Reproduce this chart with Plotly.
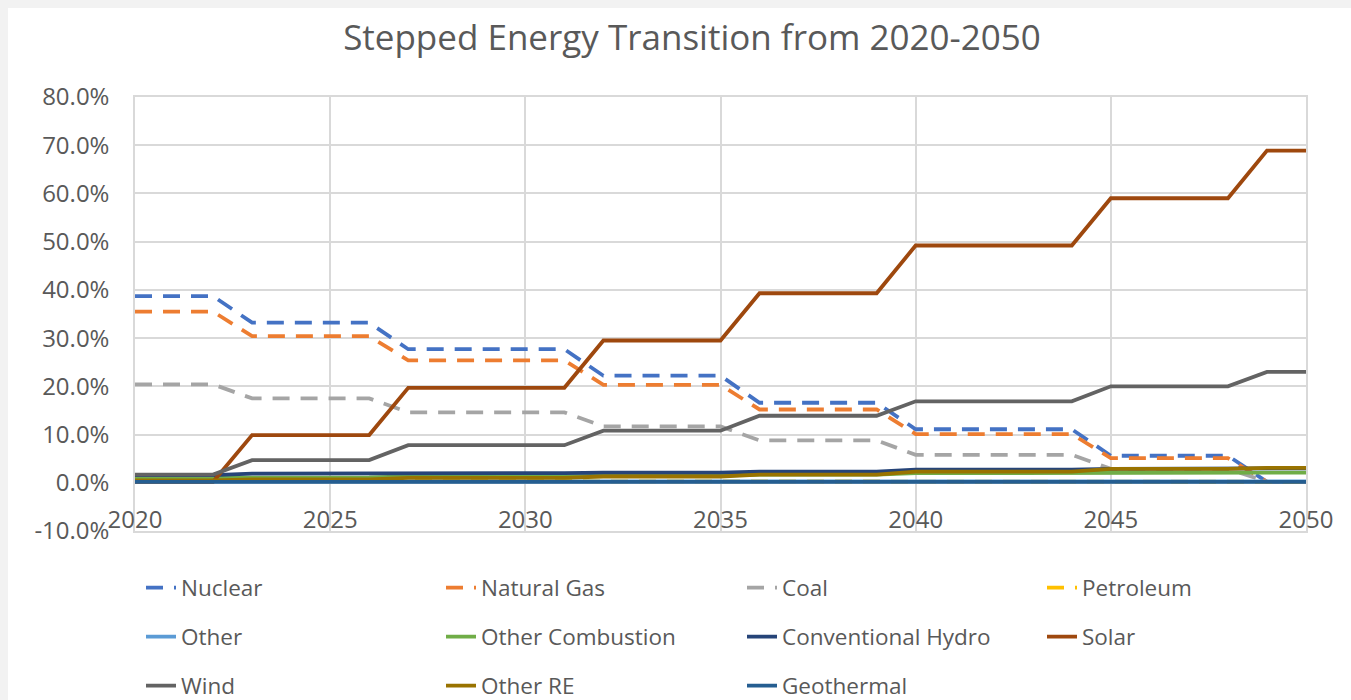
import plotly.graph_objects as go

years = list(range(2020, 2051))

nuclear = [38.7, 38.7, 38.7, 33.2, 33.2, 33.2, 33.2, 27.7, 27.7, 27.7, 27.7, 27.7,
           22.2, 22.2, 22.2, 22.2, 16.6, 16.6, 16.6, 16.6, 11.1, 11.1, 11.1, 11.1, 11.1,
           5.6, 5.6, 5.6, 5.6, 0.2, 0.2]
natural_gas = [35.5, 35.5, 35.5, 30.4, 30.4, 30.4, 30.4, 25.4, 25.4, 25.4, 25.4, 25.4,
               20.3, 20.3, 20.3, 20.3, 15.2, 15.2, 15.2, 15.2, 10.1, 10.1, 10.1, 10.1, 10.1,
               5.1, 5.1, 5.1, 5.1, 0.2, 0.2]
coal = [20.4, 20.4, 20.4, 17.5, 17.5, 17.5, 17.5, 14.6, 14.6, 14.6, 14.6, 14.6,
        11.7, 11.7, 11.7, 11.7, 8.8, 8.8, 8.8, 8.8, 5.8, 5.8, 5.8, 5.8, 5.8,
        2.9, 2.9, 2.9, 2.9, 0.2, 0.2]
petroleum = [0.5, 0.5, 0.5, 0.4, 0.4, 0.4, 0.4, 0.4, 0.4, 0.4, 0.4, 0.4,
             0.3, 0.3, 0.3, 0.3, 0.3, 0.3, 0.3, 0.3, 0.2, 0.2, 0.2, 0.2, 0.2,
             0.2, 0.2, 0.2, 0.2, 0.2, 0.2]
other = [0.3, 0.3, 0.3, 0.3, 0.3, 0.3, 0.3, 0.3, 0.3, 0.3, 0.3, 0.3,
         0.3, 0.3, 0.3, 0.3, 0.3, 0.3, 0.3, 0.3, 0.3, 0.3, 0.3, 0.3, 0.3,
         0.3, 0.3, 0.3, 0.3, 0.3, 0.3]
other_combustion = [1.0, 1.0, 1.0, 1.1, 1.1, 1.1, 1.1, 1.3, 1.3, 1.3, 1.3, 1.3,
                    1.5, 1.5, 1.5, 1.5, 1.7, 1.7, 1.7, 1.7, 2.0, 2.0, 2.0, 2.0, 2.0,
                    2.1, 2.1, 2.1, 2.1, 2.1, 2.1]
conventional_hydro = [1.6, 1.6, 1.6, 1.9, 1.9, 1.9, 1.9, 2.0, 2.0, 2.0, 2.0, 2.0,
                      2.1, 2.1, 2.1, 2.1, 2.3, 2.3, 2.3, 2.3, 2.7, 2.7, 2.7, 2.7, 2.7,
                      2.9, 2.9, 2.9, 2.9, 3.0, 3.0]
solar = [0.2, 0.2, 0.2, 9.9, 9.9, 9.9, 9.9, 19.7, 19.7, 19.7, 19.7, 19.7,
         29.5, 29.5, 29.5, 29.5, 39.3, 39.3, 39.3, 39.3, 49.2, 49.2, 49.2, 49.2, 49.2,
         59.0, 59.0, 59.0, 59.0, 68.9, 68.9]
wind = [1.7, 1.7, 1.7, 4.7, 4.7, 4.7, 4.7, 7.8, 7.8, 7.8, 7.8, 7.8,
        10.8, 10.8, 10.8, 10.8, 13.9, 13.9, 13.9, 13.9, 16.9, 16.9, 16.9, 16.9, 16.9,
        20.0, 20.0, 20.0, 20.0, 23.0, 23.0]
other_re = [0.5, 0.5, 0.5, 0.7, 0.7, 0.7, 0.7, 1.0, 1.0, 1.0, 1.0, 1.0,
            1.3, 1.3, 1.3, 1.3, 1.7, 1.7, 1.7, 1.7, 2.3, 2.3, 2.3, 2.3, 2.3,
            2.9, 2.9, 2.9, 2.9, 3.1, 3.1]
geothermal = [0.2, 0.2, 0.2, 0.2, 0.2, 0.2, 0.2, 0.2, 0.2, 0.2, 0.2, 0.2,
              0.2, 0.2, 0.2, 0.2, 0.2, 0.2, 0.2, 0.2, 0.2, 0.2, 0.2, 0.2, 0.2,
              0.2, 0.2, 0.2, 0.2, 0.2, 0.2]

x_ticks = [2020, 2025, 2030, 2035, 2040, 2045, 2050]
y_ticks = [-10, 0, 10, 20, 30, 40, 50, 60, 70, 80]

names = ["Nuclear", "Natural Gas", "Coal", "Petroleum", "Other", "Other Combustion",
         "Conventional Hydro", "Solar", "Wind", "Other RE", "Geothermal"]
values = [nuclear, natural_gas, coal, petroleum, other, other_combustion,
          conventional_hydro, solar, wind, other_re, geothermal]
colors = ["#4472C4", "#ED7D31", "#A5A5A5", "#FFC000", "#5B9BD5", "#70AD47",
          "#264478", "#9E480E", "#636363", "#997300", "#255E91"]
dashed = [True, True, True, True, False, False, False, False, False, False, False]

FONT = "Open Sans"
TXT = "#595959"
GRID = "#D9D9D9"

W, H = 1351, 700
L, R, T, B = 135, 45, 97, 169

# legend grid (text start x, row centre y), 4 columns
col_text_x = [183, 483, 784, 1084]
row_y = [588, 637, 686]

fig = go.Figure()
legends = {}
for i, (name, vals, color, dsh) in enumerate(zip(names, values, colors, dashed)):
    key = "legend" if i == 0 else f"legend{i + 1}"
    fig.add_trace(go.Scatter(
        x=years, y=vals, name=name, mode="lines", showlegend=True,
        line=dict(color=color, width=3.8, dash="17px,11px" if dsh else "solid"),
        legend=key,
    ))
    r, c = divmod(i, 4)
    legends[key] = dict(
        orientation="h", xref="container", yref="container",
        x=(col_text_x[c] - 42) / W, y=1 - row_y[r] / H,
        xanchor="left", yanchor="middle",
        font=dict(family=FONT, size=22.5, color=TXT),
        bgcolor="rgba(0,0,0,0)",
    )

fig.update_layout(
    width=W, height=H,
    showlegend=True,
    margin=dict(l=L, r=R, t=T, b=B),
    paper_bgcolor="#F2F2F2",
    plot_bgcolor="white",
    font=dict(family=FONT, color=TXT),
    title=dict(text="Stepped Energy Transition from 2020-2050",
               font=dict(family=FONT, size=35, color=TXT),
               xref="container", x=692 / W, xanchor="center",
               yref="container", y=1 - 38 / H, yanchor="middle"),
    xaxis=dict(range=[2020, 2050], tickvals=x_ticks, ticktext=[str(v) for v in x_ticks],
               showgrid=True, gridcolor=GRID, gridwidth=1.5,
               showline=True, linecolor=GRID, linewidth=1.5, mirror=True,
               zeroline=False, ticks="",
               ticklabelposition="inside", ticklabeloverflow="allow",
               tickfont=dict(family=FONT, size=24, color=TXT)),
    yaxis=dict(range=[-10, 80], tickvals=y_ticks,
               ticktext=[f"{v:.1f}%" for v in y_ticks],
               showgrid=True, gridcolor=GRID, gridwidth=1.5,
               showline=True, linecolor=GRID, linewidth=1.5, mirror=True,
               zeroline=False, ticks="", ticklabelstandoff=19,
               tickfont=dict(family=FONT, size=24, color=TXT)),
    shapes=[dict(type="rect", xref="paper", yref="paper",
                 x0=(8 - L) / (W - L - R), x1=(W + 20 - L) / (W - L - R),
                 y0=-(B + 20) / (H - T - B), y1=(H - B - 8) / (H - T - B),
                 fillcolor="white", line=dict(width=0), layer="below")],
    **legends,
)

fig.write_html(
    "out.html",
    config={"displayModeBar": False},
    post_script="document.body.style.margin='0';document.body.style.overflow='hidden';",
)
